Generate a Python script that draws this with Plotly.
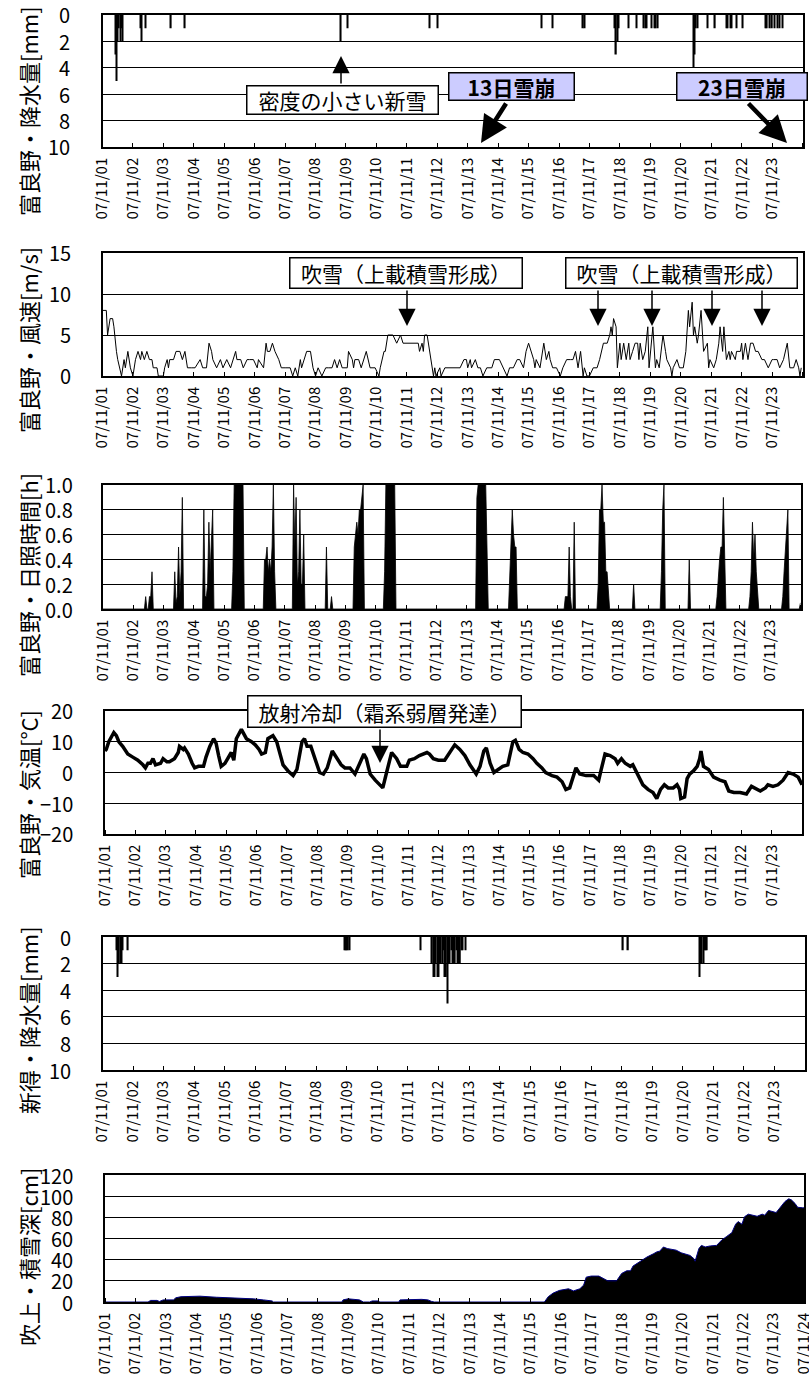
import plotly.graph_objects as go

W, H = 809, 1378

# ---------------- data (hours since 2007-11-01 00:00) ----------------
tick_hours = [0, 24, 48, 72, 96, 120, 144, 168, 192, 216, 240, 264,
              288, 312, 336, 360, 384, 408, 432, 456, 480, 504, 528, 552]
tick_labels = ["07/11/01", "07/11/02", "07/11/03", "07/11/04", "07/11/05",
               "07/11/06", "07/11/07", "07/11/08", "07/11/09", "07/11/10",
               "07/11/11", "07/11/12", "07/11/13", "07/11/14", "07/11/15",
               "07/11/16", "07/11/17", "07/11/18", "07/11/19", "07/11/20",
               "07/11/21", "07/11/22", "07/11/23", "07/11/24"]

# y tick values / labels per panel
precip_ticks = [0, 2, 4, 6, 8, 10]
precip_labels = ["0", "2", "4", "6", "8", "10"]
wind_ticks = [0, 5, 10, 15]
wind_labels = ["0", "5", "10", "15"]
sun_ticks = [0, 0.2, 0.4, 0.6, 0.8, 1.0]
sun_labels = ["0.0", "0.2", "0.4", "0.6", "0.8", "1.0"]
temp_ticks = [-20, -10, 0, 10, 20]
temp_labels = ["\u221220", "\u221210", "0", "10", "20"]
snow_ticks = [0, 20, 40, 60, 80, 100, 120]
snow_labels = ["0", "20", "40", "60", "80", "100", "120"]

# Furano precipitation [mm]
fur_h = [10, 11, 12, 13, 14, 15, 16,
         30, 31, 34, 54, 65, 188, 193,
         258, 264, 346, 355, 379, 380,
         404, 405, 406, 407, 415, 421, 427, 428, 429, 433, 435, 436, 438,
         466, 467, 468, 469, 477, 483, 492, 493, 495, 496, 500, 505,
         523, 524, 526, 528, 530, 532, 534, 536]
fur_mm = [3, 5, 2, 1, 2, 1, 2,
          1, 2, 1, 1, 1, 2, 1,
          1, 1, 1, 1, 1, 1,
          1, 3, 2, 1, 1, 1, 1, 1, 1, 1, 1, 1, 1,
          4, 3, 1, 1, 1, 1, 1, 1, 1, 1, 1, 1,
          1, 1, 1, 1, 1, 1, 1, 1]

# Furano wind speed [m/s]
wind_h = [0, 1, 3, 4, 6, 8, 9, 11, 12, 15,
          17, 18, 20, 22, 24, 26, 28, 30, 31, 33,
          35, 37, 39, 40, 43, 44, 48, 49, 51, 52,
          53, 56, 58, 61, 63, 65, 67, 70, 73, 77,
          79, 82, 84, 86, 87, 90, 93, 95, 98, 101,
          103, 105, 106, 109, 111, 114, 116, 119, 122, 123,
          127, 129, 130, 132, 134, 136, 139, 141, 144, 148,
          150, 152, 154, 156, 157, 159, 161, 164, 166, 168,
          170, 173, 176, 178, 181, 183, 185, 187, 189, 193,
          194, 197, 198, 199, 202, 204, 206, 208, 211, 215,
          218, 219, 222, 223, 225, 229, 232, 235, 237, 240,
          245, 249, 250, 252, 253, 254, 256, 258, 260, 261,
          262, 263, 266, 267, 270, 274, 278, 282, 285, 287,
          288, 290, 291, 294, 296, 298, 300, 303, 307, 309,
          313, 316, 319, 321, 324, 327, 329, 332, 334, 336,
          338, 340, 341, 342, 345, 348, 350, 352, 353, 355,
          358, 361, 363, 366, 369, 371, 373, 375, 377, 378,
          379, 380, 382, 384, 387, 390, 392, 395, 398, 400,
          401, 402, 403, 405, 406, 408, 409, 411, 413, 415,
          416, 418, 420, 422, 423, 424, 426, 428, 430, 431,
          433, 434, 436, 437, 439, 441, 442, 444, 445, 448,
          449, 450, 453, 455, 458, 460, 462, 463, 465, 466,
          467, 469, 470, 472, 473, 474, 477, 478, 479, 482,
          484, 486, 487, 489, 490, 492, 494, 495, 496, 499,
          500, 503, 504, 505, 507, 509, 511, 513, 515, 517,
          520, 522, 525, 528, 529, 532, 534, 537, 540, 541,
          542, 545, 547, 549, 550, 551]
wind_ms = [8, 8, 8, 5, 7, 7, 6, 3, 2, 0,
           2, 1, 3, 1, 0, 2, 3, 2, 3, 2,
           3, 2, 2, 1, 1, 0, 0, 1, 2, 1,
           2, 2, 3, 3, 2, 3, 1, 1, 1, 2,
           1, 1, 4, 3, 2, 1, 2, 1, 2, 1,
           2, 3, 2, 2, 1, 2, 2, 2, 1, 2,
           1, 4, 3, 3, 4, 3, 2, 1, 1, 1,
           0, 1, 0, 2, 1, 2, 3, 3, 1, 0,
           1, 0, 1, 1, 1, 2, 1, 2, 1, 1,
           3, 2, 1, 2, 2, 1, 2, 3, 1, 1,
           0, 1, 3, 3, 5, 5, 4, 5, 4, 4,
           4, 4, 3, 4, 3, 5, 5, 3, 1, 0,
           1, 0, 1, 0, 1, 1, 1, 1, 2, 2,
           1, 2, 1, 2, 1, 1, 0, 1, 1, 2,
           2, 1, 0, 1, 1, 2, 2, 1, 3, 4,
           3, 2, 1, 2, 1, 4, 2, 3, 2, 1,
           1, 0, 1, 2, 2, 2, 3, 1, 3, 1,
           0, 1, 0, 0, 1, 1, 2, 4, 4, 5,
           6, 5, 7, 6, 1, 4, 2, 4, 2, 4,
           2, 3, 4, 4, 2, 4, 2, 3, 6, 1,
           4, 6, 1, 2, 1, 4, 5, 3, 2, 1,
           0, 1, 2, 1, 1, 3, 8, 6, 9, 5,
           6, 4, 5, 8, 6, 3, 4, 1, 2, 1,
           2, 4, 6, 3, 6, 2, 3, 2, 3, 2,
           3, 3, 4, 2, 4, 2, 4, 4, 3, 3,
           2, 2, 1, 2, 2, 2, 1, 2, 4, 2,
           1, 1, 2, 1, 0, 1]

# Furano sunshine duration [h]
sun_h = [0, 33, 34, 35, 36, 37, 38, 39, 40,
         56, 57, 58, 59, 60, 61, 62, 63, 64,
         79, 80, 81, 82, 83, 84, 85, 86, 87, 88,
         102, 103, 104, 105, 106, 107, 108, 109, 110, 111, 112,
         127, 128, 129, 130, 131, 132, 133, 134, 135, 136, 137,
         150, 151, 152, 153, 154, 155, 156, 157, 158, 159, 160,
         176, 177, 178,
         180, 181, 182,
         198, 199, 200, 201, 202, 203, 204, 205, 206, 207,
         222, 223, 224, 225, 226, 227, 228, 229, 230, 231, 232,
         295, 296, 297, 298, 299, 300, 301, 302, 303, 304, 305,
         321, 322, 323, 324, 325, 326, 327, 328,
         365, 366, 367, 368, 369, 370, 371, 372, 373, 374,
         391, 392, 393, 394, 395, 396, 397, 398, 399, 400, 401,
         419, 420, 421,
         441, 442, 443, 444, 445,
         463, 464, 465,
         485, 486, 487, 488, 489, 490, 491, 492, 493,
         511, 512, 513, 514, 515, 516, 517, 518, 519,
         537, 538, 539, 540, 541, 542, 543,
         551, 552]
sun_hr = [0, 0, 0.1, 0, 0, 0.1, 0.1, 0.3, 0,
          0, 0.3, 0.05, 0.1, 0.5, 0.1, 0.3, 0.9, 0,
          0, 0.8, 0.1, 0.1, 0.2, 0.7, 0.3, 0.5, 0.8, 0,
          0, 0.3, 1, 1, 1, 1, 1, 1, 1, 1, 0,
          0, 0.4, 0.4, 0.5, 0.3, 0.4, 0.3, 0.5, 1.0, 0.3, 0,
          0, 1.0, 0.5, 0.9, 0.2, 0.3, 0.8, 0.2, 0.2, 0.6, 0,
          0, 0.5, 0,
          0, 0.1, 0,
          0, 0.5, 0.6, 0.7, 0.6, 0.8, 0.8, 0.9, 1.0, 0,
          0, 0.3, 1, 1, 1, 1, 1, 1, 1, 1, 0,
          0, 0.9, 1, 1, 1, 1, 1, 1, 1, 0.5, 0,
          0, 0.3, 0.5, 0.8, 0.6, 0.5, 0.5, 0,
          0, 0.1, 0.1, 0.1, 0.5, 0.1, 0, 0, 0.7, 0,
          0, 0.2, 0.8, 0.8, 1.0, 0.7, 0.7, 0.3, 0.3, 0.1, 0,
          0, 0.2, 0,
          0, 0.3, 0.8, 1.0, 0,
          0, 0.4, 0,
          0, 0.1, 0.3, 0.4, 0.5, 0.5, 0.9, 0.4, 0,
          0, 0.1, 0.3, 0.7, 0.4, 0.6, 0.3, 0.1, 0,
          0, 0.1, 0.3, 0.5, 0.7, 0.8, 0,
          0, 0.05]

# Furano air temperature [deg C]
temp_h = [0, 1, 3, 7, 9, 11, 14, 18, 22, 26,
          30, 32, 34, 36, 38, 40, 44, 46, 49, 51,
          55, 58, 59, 62, 63, 66, 69, 71, 74, 78,
          80, 83, 86, 88, 90, 92, 95, 98, 100, 102,
          104, 108, 112, 116, 119, 122, 124, 127, 129, 133,
          136, 139, 141, 145, 149, 152, 156, 158, 160, 163,
          166, 170, 173, 176, 180, 183, 187, 190, 194, 198,
          202, 205, 207, 210, 214, 220, 223, 227, 231, 234,
          239, 241, 245, 249, 255, 257, 260, 264, 269, 273,
          277, 281, 285, 289, 294, 297, 300, 302, 305, 308,
          311, 315, 319, 323, 325, 328, 331, 335, 339, 342,
          346, 349, 354, 358, 362, 365, 368, 371, 373, 376,
          381, 387, 391, 393, 396, 400, 404, 406, 409, 412,
          416, 418, 422, 426, 430, 434, 437, 440, 443, 446,
          450, 453, 455, 456, 459, 461, 463, 466, 469, 471,
          472, 474, 478, 482, 487, 491, 494, 498, 503, 508,
          512, 516, 519, 523, 525, 529, 533, 537, 541, 545,
          549, 552]
temp_c = [7, 7.5, 10, 13, 12, 10, 8.5, 6, 5, 4,
          2.5, 1.5, 3, 3, 4.5, 2.5, 3, 4.5, 3.5, 3.5,
          4.5, 6.5, 8.5, 7.5, 8, 6, 3, 1.5, 2, 2,
          5, 8.5, 11, 9.5, 5.5, 2, 3, 5, 6.5, 4,
          11, 14, 11, 10, 9, 7.5, 6, 6.5, 11, 12,
          10, 5.5, 2.5, 0.5, -1, 1, 10, 11, 8.5, 8.5,
          4.5, 0, -0.5, 1.5, 7, 5, 2.5, 1.5, 1.5, -0.5,
          3, 6, 4.5, -0.5, -2.5, -5, 0, 6.5, 4.5, 2,
          2, 4, 4.5, 5.5, 6.5, 6, 4.5, 4, 4, 6.5,
          9, 7.5, 5.5, 2.5, -0.5, 2, 7, 8, 3, 0,
          1, 2, 2.5, 10, 10.5, 7.5, 6.5, 6, 4.5, 3,
          1.5, 0, -1, -1.5, -3, -5.5, -5, -1, 1.5, -0.5,
          -1, -1, -2.5, 1, 6, 5.5, 4.5, 3, 4.5, 3,
          2, 2.5, -0.5, -4, -5.5, -6.5, -8.5, -5.5, -4, -5,
          -5, -4, -5.5, -8.5, -8, -2, -0.5, 0.5, 2, 4.5,
          7, 2, 1, -1.5, -2.5, -3, -6, -6.5, -6.5, -7,
          -4.5, -5.5, -6, -5, -4, -4.5, -4, -2.5, 0, -0.5,
          -1.5, -4]

# Shintoku precipitation [mm]
shin_h = [11, 12, 13, 14, 15, 16, 20,
          190, 191, 192, 193, 194,
          250,
          259, 260, 261, 262, 263, 264, 265, 266, 267, 268, 269, 270, 271,
          272, 273, 274, 275, 276, 277, 278, 279, 280, 281, 282, 283, 285,
          409, 413,
          469, 470, 471, 472, 473, 474, 475]
shin_mm = [1, 3, 2, 2, 2, 1, 1,
           1, 1, 1, 1, 1,
           1,
           2, 3, 3, 2, 3, 3, 2, 2, 2, 1, 3, 3, 5,
           2, 2, 1, 2, 2, 2, 1, 2, 2, 2, 1, 1, 1,
           1, 1,
           3, 2, 2, 2, 1, 1, 1]

# Fukiage snow depth [cm]
snow_h = [0, 34, 36, 41, 43, 46, 54, 56, 60, 75,
          88, 101, 117, 125, 132, 133, 187, 188, 192, 201,
          204, 209, 211, 216, 217, 232, 233, 250, 255, 258,
          260, 347, 350, 354, 359, 366, 370, 375, 378, 380,
          384, 390, 395, 397, 404, 408, 412, 415, 417, 422,
          428, 433, 436, 438, 441, 444, 449, 451, 455, 462,
          465, 466, 469, 471, 474, 478, 483, 487, 491, 495,
          498, 500, 503, 505, 508, 512, 515, 519, 521, 524,
          528, 530, 533, 537, 540, 542, 545, 547, 551, 552]
snow_cm = [0, 0, 1.5, 1.5, 0.5, 2, 2, 4, 5, 5.5,
           4.5, 4, 3, 2, 1, 0, 0, 2, 3, 2,
           0, 0, 1, 1, 0, 0, 2, 2.5, 2, 0.5,
           0, 0, 5, 8.5, 11, 12.5, 10.5, 12.5, 16, 23.5,
           24.5, 24.5, 21.5, 20, 20, 27, 29.5, 29.5, 34, 38,
           42.5, 45.5, 47.5, 48, 52, 50.5, 49, 49, 46.5, 44,
           41, 38.5, 50.5, 53.5, 52, 53, 53.5, 58.5, 62, 65.5,
           73.5, 76, 73.5, 80.5, 83, 81.5, 81, 83, 82, 86.5,
           85.5, 84.5, 89, 95, 97.5, 96.5, 93, 89.5, 89, 89]

# ---------------- figure ----------------
JP = "Noto Sans CJK JP"


def fx(p):
    return p / W


def fy(p):
    return 1 - p / H


fig = go.Figure()
fig.add_trace(go.Bar(x=fur_h, y=fur_mm, width=1.0,
                     marker=dict(color="black", line=dict(width=0)),
                     xaxis="x", yaxis="y"))
fig.add_trace(go.Scatter(x=wind_h, y=wind_ms, mode="lines",
                         line=dict(color="black", width=1),
                         xaxis="x2", yaxis="y2"))
fig.add_trace(go.Scatter(x=sun_h, y=sun_hr, mode="lines", fill="tozeroy",
                         fillcolor="black", line=dict(color="black", width=0.8),
                         xaxis="x3", yaxis="y3"))
fig.add_trace(go.Scatter(x=temp_h, y=temp_c, mode="lines",
                         line=dict(color="black", width=3.5),
                         xaxis="x4", yaxis="y4"))
fig.add_trace(go.Bar(x=shin_h, y=shin_mm, width=1.0,
                     marker=dict(color="black", line=dict(width=0)),
                     xaxis="x5", yaxis="y5"))
fig.add_trace(go.Scatter(x=snow_h, y=snow_cm, mode="lines", fill="tozeroy",
                         fillcolor="black", line=dict(color="#000080", width=1),
                         xaxis="x6", yaxis="y6"))

panels = [
    dict(xd=(102.5, 802.5), yd=(15, 147), yr=[10, 0], tv=precip_ticks, tt=precip_labels, lx=72, n=23),
    dict(xd=(102.5, 802.5), yd=(253, 376), yr=[0, 15], tv=wind_ticks, tt=wind_labels, lx=73, n=23),
    dict(xd=(102.7, 800.5), yd=(485, 609), yr=[0, 1], tv=sun_ticks, tt=sun_labels, lx=75, n=23),
    dict(xd=(105, 802), yd=(711, 834), yr=[-20, 20], tv=temp_ticks, tt=temp_labels, lx=75, n=23),
    dict(xd=(102.5, 805), yd=(937, 1070), yr=[10, 0], tv=precip_ticks, tt=precip_labels, lx=73, n=23),
    dict(xd=(105, 804), yd=(1175, 1302), yr=[0, 120], tv=snow_ticks, tt=snow_labels, lx=75, n=24),
]

layout = {}
annotations = []
for i, p in enumerate(panels, start=1):
    xk = "xaxis" if i == 1 else f"xaxis{i}"
    yk = "yaxis" if i == 1 else f"yaxis{i}"
    xid = "x" if i == 1 else f"x{i}"
    yid = "y" if i == 1 else f"y{i}"
    layout[xk] = dict(
        domain=[fx(p["xd"][0]), fx(p["xd"][1])], anchor=yid, range=[0, 552],
        automargin=False, ticklabeloverflow="allow",
        tickmode="array", tickvals=tick_hours[:p["n"]], ticktext=tick_labels[:p["n"]],
        tickangle=-90, ticks="outside", ticklen=3, tickcolor="rgba(0,0,0,0)",
        minor=dict(tickmode="array", tickvals=tick_hours, ticks="inside",
                   ticklen=4, tickwidth=1, tickcolor="black", showgrid=False),
        showline=True, mirror=True, linecolor="black", linewidth=1.5,
        showgrid=False, zeroline=False, fixedrange=True,
        tickfont=dict(family=JP, size=15, color="black"))
    layout[yk] = dict(
        domain=[fy(p["yd"][1]), fy(p["yd"][0])], anchor=xid, range=p["yr"],
        automargin=False, tickmode="array", tickvals=p["tv"], ticks="",
        showticklabels=False,
        showgrid=True, gridcolor="black", gridwidth=1,
        showline=True, mirror=True, linecolor="black", linewidth=1.5,
        zeroline=False, fixedrange=True)
    # y tick labels placed on the axis' own scale
    for v, t in zip(p["tv"], p["tt"]):
        annotations.append(dict(text=t, x=fx(p["lx"]), y=v, xref="paper", yref=yid,
                                showarrow=False, xanchor="right", yanchor="middle",
                                font=dict(family=JP, size=20, color="black")))

# y-axis titles
titles = [("富良野・降水量[mm]", 111), ("富良野・風速[m/s]", 340),
          ("富良野・日照時間[h]", 575), ("富良野・気温[°C]", 795),
          ("新得・降水量[mm]", 1020), ("吹上・積雪深[cm]", 1257)]
for t, cy in titles:
    annotations.append(dict(text=t, x=fx(28), y=fy(cy), xref="paper", yref="paper",
                            textangle=-90, showarrow=False, xanchor="center", yanchor="middle",
                            font=dict(family=JP, size=22, color="black")))


def arrow(tipx, tipy, tailx, taily, w, size):
    return dict(text="", x=fx(tipx), y=fy(tipy), xref="paper", yref="paper",
                showarrow=True, ax=tailx - tipx, ay=taily - tipy,
                axref="pixel", ayref="pixel", arrowhead=2, arrowsize=size,
                arrowwidth=w, arrowcolor="black", standoff=0, startstandoff=0)


def box(text, cx, cy, w, h, bg="white", bold=False):
    return dict(text=f"<b>{text}</b>" if bold else text, x=fx(cx), y=fy(cy),
                xref="paper", yref="paper", showarrow=False, bgcolor=bg,
                bordercolor="black", borderwidth=1.5, borderpad=0, width=w, height=h,
                xanchor="center", yanchor="middle", align="center",
                font=dict(family=JP, size=21, color="black"))


# arrows
annotations += [
    arrow(341, 56, 341, 85, 1.5, 2.3),
    arrow(481, 143, 507, 102, 4.5, 1.2),
    arrow(787, 143, 747, 102, 4.5, 1.2),
    arrow(407, 326, 407, 289, 1.5, 2.3),
    arrow(598, 326, 598, 289, 1.5, 2.3),
    arrow(652, 326, 652, 289, 1.5, 2.3),
    arrow(712, 326, 712, 289, 1.5, 2.3),
    arrow(762, 326, 762, 289, 1.5, 2.3),
    arrow(380, 763, 380, 728, 1.5, 2.3),
]
# boxes
annotations += [
    box("密度の小さい新雪", 342, 100, 190, 27),
    box("13日雪崩", 511, 87, 124, 26, bg="#CCCCFF", bold=True),
    box("23日雪崩", 741.5, 87, 129, 26, bg="#CCCCFF", bold=True),
    box("吹雪（上載積雪形成）", 405.5, 273, 231, 29),
    box("吹雪（上載積雪形成）", 681.5, 273, 230, 29),
    box("放射冷却（霜系弱層発達）", 384.5, 711.5, 272, 30),
]

fig.update_layout(
    template="none",
    width=W, height=H, margin=dict(l=0, r=0, t=0, b=0, pad=0, autoexpand=False),
    paper_bgcolor="white", plot_bgcolor="white", showlegend=False,
    font=dict(family=JP, color="black"),
    annotations=annotations, **layout)

fig.write_html("out.html", config={"displayModeBar": False},
               post_script="document.body.style.margin='0px';document.body.style.overflow='hidden';")
